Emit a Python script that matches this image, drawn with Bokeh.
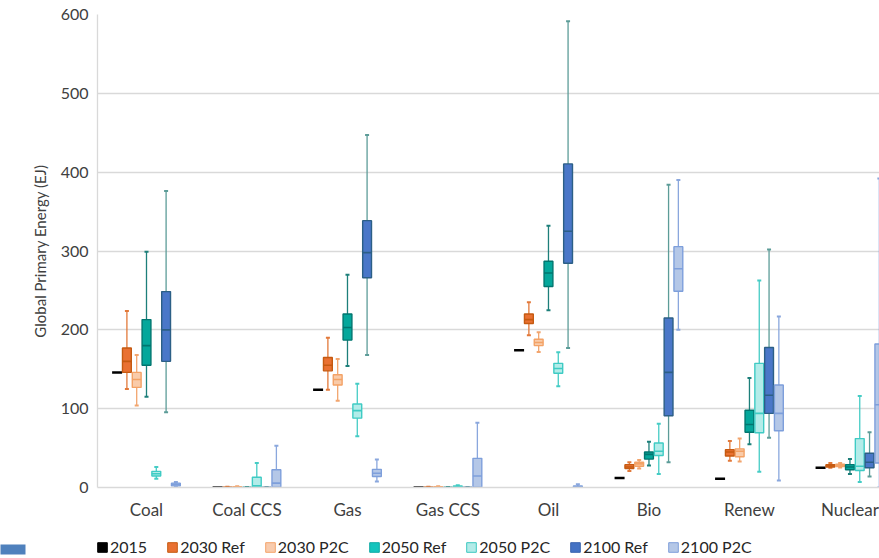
from bokeh.plotting import figure
from bokeh.layouts import column
from bokeh.models import (Range1d, FixedTicker, Legend, LegendItem,
                          ColumnDataSource, ColorBar, LinearColorMapper)
from bokeh.core.properties import value
from bokeh.embed import file_html
from bokeh.resources import INLINE

# ---------------- data (EJ) ----------------
categories = ["Coal", "Coal CCS", "Gas", "Gas CCS", "Oil", "Bio", "Renew", "Nuclear"]

val_2015 = [146, 0, 124, 0, 174, 12, 11, 25]

ref2030_min = [125, 0, 124, 0, 193, 21, 34, 25]
ref2030_q1 = [146, 0, 148, 0, 208, 24, 40, 26]
ref2030_med = [160, 0, 155, 0, 213, 26, 45, 27.5]
ref2030_q3 = [177, 0.5, 165, 0.5, 220, 29, 48, 29]
ref2030_max = [224, 1, 190, 1, 235, 32, 59, 31]

p2c2030_min = [104, 0, 110, 0, 172, 24, 33, 25.5]
p2c2030_q1 = [127, 0, 130, 0, 180, 27, 39, 26.5]
p2c2030_med = [137, 0.5, 137, 0.5, 184, 30, 46, 28]
p2c2030_q3 = [146, 1, 143, 1, 188, 32, 49, 29.5]
p2c2030_max = [168, 1.5, 163, 1.5, 197, 35, 62, 31]

ref2050_min = [115, 0, 154, 0, 225, 28, 55, 17]
ref2050_q1 = [155, 0, 187, 0, 255, 36, 70, 22.5]
ref2050_med = [180, 0, 203, 0, 272, 42, 80, 26]
ref2050_q3 = [213, 0, 220, 0, 287, 45, 98, 29]
ref2050_max = [299, 0, 270, 0, 332, 58, 139, 36]

p2c2050_min = [11, 0, 65, 0, 128.5, 17, 20, 7]
p2c2050_q1 = [14.5, 0.5, 88, 0, 145, 40.5, 69.5, 21.5]
p2c2050_med = [17.5, 2, 97.5, 1, 151, 46, 94, 27]
p2c2050_q3 = [20.5, 13, 106, 2, 157.5, 56.5, 157.5, 62]
p2c2050_max = [26, 31, 131.5, 3, 171.5, 81, 262.5, 116]

ref2100_min = [95.5, 0, 168, 0, 177, 32, 63, 14]
ref2100_q1 = [160, 0, 266, 0, 284.5, 91, 94, 25]
ref2100_med = [200, 0, 298, 0, 325, 146, 117, 32]
ref2100_q3 = [248.5, 0, 338.5, 0, 410.5, 215, 177.5, 43.5]
ref2100_max = [376, 0, 447, 0, 591.5, 384, 302, 70]

p2c2100_min = [1, 0, 7.5, 0, 0, 200, 9, 0]
p2c2100_q1 = [2, 0.5, 14, 0.5, 0.5, 249, 72, 31]
p2c2100_med = [4, 5.5, 18, 14.5, 1, 277.5, 94, 105]
p2c2100_q3 = [5.5, 22.5, 23, 37, 2, 305.5, 130, 182]
p2c2100_max = [7, 53, 35.5, 82, 4, 390, 217, 392]

series_names = ["2030 Ref", "2030 P2C", "2050 Ref", "2050 P2C", "2100 Ref", "2100 P2C"]
series_stats = [
    (ref2030_min, ref2030_q1, ref2030_med, ref2030_q3, ref2030_max),
    (p2c2030_min, p2c2030_q1, p2c2030_med, p2c2030_q3, p2c2030_max),
    (ref2050_min, ref2050_q1, ref2050_med, ref2050_q3, ref2050_max),
    (p2c2050_min, p2c2050_q1, p2c2050_med, p2c2050_q3, p2c2050_max),
    (ref2100_min, ref2100_q1, ref2100_med, ref2100_q3, ref2100_max),
    (p2c2100_min, p2c2100_q1, p2c2100_med, p2c2100_q3, p2c2100_max),
]

title_text = "Energy"

# ---------------- styles ----------------
box_fill = ["#E97132", "#F9CBA9", "#04A79B", "#B3ECE9", "#4A77C8", "#B4C7E7"]
box_line = ["#C55A11", "#F3A266", "#00766F", "#3FCBC4", "#2C5F86", "#7E9FDB"]
whisker_col = ["#E2793A", "#F2A56E", "#1D7F7A", "#45CCC5", "#5C9C98", "#8AA7DD"]
legend_fill = ["#000000", "#E97132", "#F8CBAD", "#14C4BD", "#B2EBE8", "#4472C4", "#B4C7E7"]
legend_line = ["#000000", "#C55A11", "#F4A46A", "#10ABA5", "#3CC8C0", "#3A64AE", "#7F9FDB"]

FONT = "Lato"
W = 879
LEFT = 97
TOP_H, MAIN_H, LEG_H = 4, 532, 22
step = 0.0975
bw = 0.088


def strip(height, y_top):
    """A blank strip whose frame shares the chart's left edge; data x/y = page pixels."""
    f = figure(width=W, height=height, output_backend="svg", toolbar_location=None,
               x_range=Range1d(LEFT, W), y_range=Range1d(y_top + height, y_top),
               x_axis_location=None, y_axis_location=None,
               min_border_left=LEFT, min_border_right=0,
               min_border_top=0, min_border_bottom=0)
    f.grid.visible = False
    f.outline_line_color = None
    f.background_fill_color = "white"
    f.border_fill_color = "white"
    return f


# ---------------- top strip: cropped chart title ----------------
top = strip(TOP_H, 0)
top.text(x=[481], y=[-2], text=[title_text], text_align="right",
         text_baseline="alphabetic", text_font=value(FONT),
         text_font_style="bold", text_font_size="44px", text_color="black")

# ---------------- main chart ----------------
p = figure(width=W, height=MAIN_H, output_backend="svg", toolbar_location=None,
           x_range=Range1d(-0.4876, 7.294), y_range=Range1d(0, 600),
           min_border_left=LEFT, min_border_top=10, min_border_bottom=49,
           min_border_right=0)
p.outline_line_color = None
p.background_fill_color = "white"
p.border_fill_color = "white"

p.xaxis.ticker = FixedTicker(ticks=list(range(len(categories))))
p.xaxis.major_label_overrides = {i: c for i, c in enumerate(categories)}
p.yaxis.ticker = FixedTicker(ticks=[0, 100, 200, 300, 400, 500, 600])
for ax in (p.xaxis[0], p.yaxis[0]):
    ax.axis_line_color = "#D9D9D9"
    ax.axis_line_width = 1.3
    ax.major_tick_line_color = None
    ax.minor_tick_line_color = None
    ax.major_label_text_font = FONT
    ax.major_label_text_color = "#404040"
p.xaxis.major_label_text_font_size = "17px"
p.yaxis.major_label_text_font_size = "16px"
p.xaxis.major_label_standoff = 5
p.yaxis.major_label_standoff = 3
p.yaxis.axis_label = "Global Primary Energy (EJ)"
p.yaxis.axis_label_text_font = FONT
p.yaxis.axis_label_text_font_size = "15px"
p.yaxis.axis_label_text_font_style = "normal"
p.yaxis.axis_label_text_color = "#404040"
p.yaxis.axis_label_standoff = 9
p.xgrid.visible = False
p.ygrid.grid_line_color = "#D9D9D9"
p.ygrid.grid_line_width = 1.3

xs_base = list(range(len(categories)))

src15 = ColumnDataSource(dict(x=[i - 3 * step for i in xs_base], y=val_2015))
p.scatter(x="x", y="y", marker="dash", size=10, line_color="black",
          line_width=2.5, source=src15)

for k, (name, st) in enumerate(zip(series_names, series_stats)):
    mn, q1, md, q3, mx = st
    off = (k - 2) * step
    src = ColumnDataSource(dict(x=[i + off for i in xs_base], lo=mn, q1=q1,
                                med=md, q3=q3, hi=mx))
    p.segment(x0="x", y0="lo", x1="x", y1="hi", line_color=whisker_col[k],
              line_width=1.3, source=src)
    p.scatter(x="x", y="lo", marker="dash", size=4, line_color=whisker_col[k],
              line_width=2, source=src)
    p.scatter(x="x", y="hi", marker="dash", size=4, line_color=whisker_col[k],
              line_width=2, source=src)
    p.vbar(x="x", width=bw, bottom="q1", top="q3", fill_color=box_fill[k],
           line_color=box_line[k], line_width=1.4, source=src)
    p.scatter(x="x", y="med", marker="dash", size=9, line_color=box_line[k],
              line_width=1.6, source=src)

# ---------------- legend strip ----------------
leg = strip(LEG_H, TOP_H + MAIN_H)
legend_names = ["2015"] + series_names
items = []
for k, nm in enumerate(legend_names):
    # swatch renderer: one off-screen quad, only used to draw the legend key
    r = leg.quad(left=[0], right=[1], top=[0], bottom=[1], fill_color=legend_fill[k],
                 line_color=legend_line[k], line_width=1)
    items.append(LegendItem(label=nm, renderers=[r]))
legend = Legend(items=items, orientation="horizontal", location=(-1, 2),
                glyph_width=12, glyph_height=12, label_standoff=2, spacing=19,
                padding=0, margin=0, border_line_color=None,
                background_fill_alpha=0, label_text_font=FONT,
                label_text_font_size="16px", label_text_color="#262626",
                label_height=16)
leg.add_layout(legend, "center")

# small blue block at the lower-left corner of the slide (first 25 px of the margin)
block_palette = ["#4F81BD"] * 25 + ["#FFFFFF"] * 72
blue = ColorBar(color_mapper=LinearColorMapper(palette=block_palette, low=0, high=1),
                orientation="horizontal", width=LEFT, height=10, padding=0, margin=0,
                ticker=FixedTicker(ticks=[]), major_tick_line_color=None,
                minor_tick_line_color=None, bar_line_color=None,
                border_line_color=None, background_fill_alpha=0,
                location=(0, 4))
leg.add_layout(blue, "left")

layout = column(top, p, leg, spacing=0)
open("out.html", "w").write(file_html(layout, INLINE))
